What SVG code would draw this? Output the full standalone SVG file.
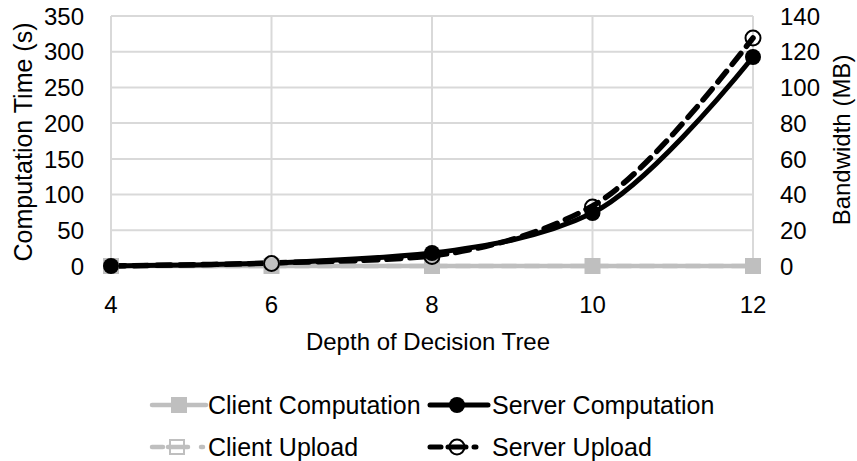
<svg xmlns="http://www.w3.org/2000/svg" width="857" height="461" viewBox="0 0 857 461">
<style>
text{font-family:"Liberation Sans",Arial,sans-serif;font-size:24px;fill:#000}
.lg{font-size:25px}
.grid{stroke:#D9D9D9;stroke-width:2;fill:none}
.cc{stroke:#BFBFBF;stroke-width:4.5;fill:none;stroke-linecap:round}
.cu{stroke:#BFBFBF;stroke-width:4.5;fill:none;stroke-dasharray:14 9;stroke-linecap:round}
.sc{stroke:#000;stroke-width:5;fill:none;stroke-linecap:round}
.su{stroke:#000;stroke-width:5.5;fill:none;stroke-dasharray:14 9;stroke-linecap:round}
.sq{fill:#BFBFBF}
.osq{fill:none;stroke:#BFBFBF;stroke-width:2}
.dot{fill:#000}
.odot{fill:none;stroke:#000;stroke-width:2}
.l{text-anchor:end}
.m{text-anchor:middle}
</style>
<defs>
<rect id="sqm" class="sq" x="-8" y="-8" width="16" height="16"/>
<rect id="osqm" class="osq" x="-7" y="-7" width="14" height="14"/>
<circle id="dm" class="dot" r="8"/>
<circle id="odm" class="odot" r="7.5"/>
</defs>
<rect width="857" height="461" fill="#fff"/>
<g id="gridlines">
<path class="grid" d="M111 16H753M111 51.7H753M111 87.4H753M111 123.1H753M111 158.9H753M111 194.6H753M111 230.3H753M111 266H753"/>
<path class="grid" d="M111 16V266M271.5 16V266M432 16V266M592.5 16V266M753 16V266"/>
</g>
<g id="axis-left">
<text class="l" x="84" y="24.6">350</text>
<text class="l" x="84" y="60.3">300</text>
<text class="l" x="84" y="96">250</text>
<text class="l" x="84" y="131.7">200</text>
<text class="l" x="84" y="167.5">150</text>
<text class="l" x="84" y="203.2">100</text>
<text class="l" x="84" y="238.9">50</text>
<text class="l" x="84" y="274.6">0</text>
<text class="m" style="font-size:25px" transform="translate(32 142) rotate(-90)">Computation Time (s)</text>
</g>
<g id="axis-right">
<text x="780" y="24.6">140</text>
<text x="780" y="60.3">120</text>
<text x="780" y="96">100</text>
<text x="780" y="131.7">80</text>
<text x="780" y="167.5">60</text>
<text x="780" y="203.2">40</text>
<text x="780" y="238.9">20</text>
<text x="780" y="274.6">0</text>
<text class="m" transform="translate(850 140) rotate(-90)">Bandwidth (MB)</text>
</g>
<g id="axis-bottom">
<text class="m" x="111" y="313">4</text>
<text class="m" x="271.5" y="313">6</text>
<text class="m" x="432" y="313">8</text>
<text class="m" x="592.5" y="313">10</text>
<text class="m" x="753" y="313">12</text>
<text class="m" x="428" y="350">Depth of Decision Tree</text>
</g>
<g id="connectors">
<path id="client-computation-line" class="cc" d="M111 266H753"/>
<path id="client-upload-line" class="cu" d="M111 266H753"/>
<path id="server-computation-line" class="sc" d="M111 266C137.7 265.5 217.7 265.2 271.5 263C324.3 260.8 377.5 259 432 253C484.5 246.5 540 238 592.5 213C645.7 186 726.2 90 753 57"/>
<path id="server-upload-line" class="su" d="M111 266C137.8 265.5 218.5 264.7 271.5 263C325.5 261.3 378.7 261 432 256C485.3 249 540 235 592.5 206C645.5 176 726.2 72 753 38"/>
</g>
<g id="client-computation-markers">
<use href="#sqm" x="111" y="266"/><use href="#sqm" x="271.5" y="266"/><use href="#sqm" x="432" y="266"/><use href="#sqm" x="592.5" y="266"/><use href="#sqm" x="753" y="266"/>
</g>
<g id="server-upload-markers">
<use href="#odm" x="271.5" y="263.5"/><use href="#odm" x="432" y="256.5"/><use href="#odm" x="592.5" y="207"/><use href="#odm" x="753" y="38"/>
</g>
<g id="server-computation-markers">
<use href="#dm" x="111" y="266"/><use href="#dm" x="432" y="253"/><use href="#dm" x="592.5" y="213"/><use href="#dm" x="753" y="57"/>
</g>
<g id="legend-client-computation">
<path class="cc" d="M152 405H206"/>
<use href="#sqm" x="179" y="405"/>
<text class="lg" x="208" y="414">Client Computation</text>
</g>
<g id="legend-server-computation">
<path class="sc" d="M430 405H488"/>
<use href="#dm" x="457" y="405"/>
<text class="lg" x="492" y="414">Server Computation</text>
</g>
<g id="legend-client-upload">
<path class="cc" d="M152 447H163M168 447H188M201 447H203"/>
<use href="#osqm" x="177" y="447"/>
<text class="lg" x="208" y="456">Client Upload</text>
</g>
<g id="legend-server-upload">
<path class="sc" d="M430 447H441M448 447H466M474 447H476"/>
<use href="#odm" x="457" y="447"/>
<text class="lg" x="492" y="456">Server Upload</text>
</g>
</svg>
